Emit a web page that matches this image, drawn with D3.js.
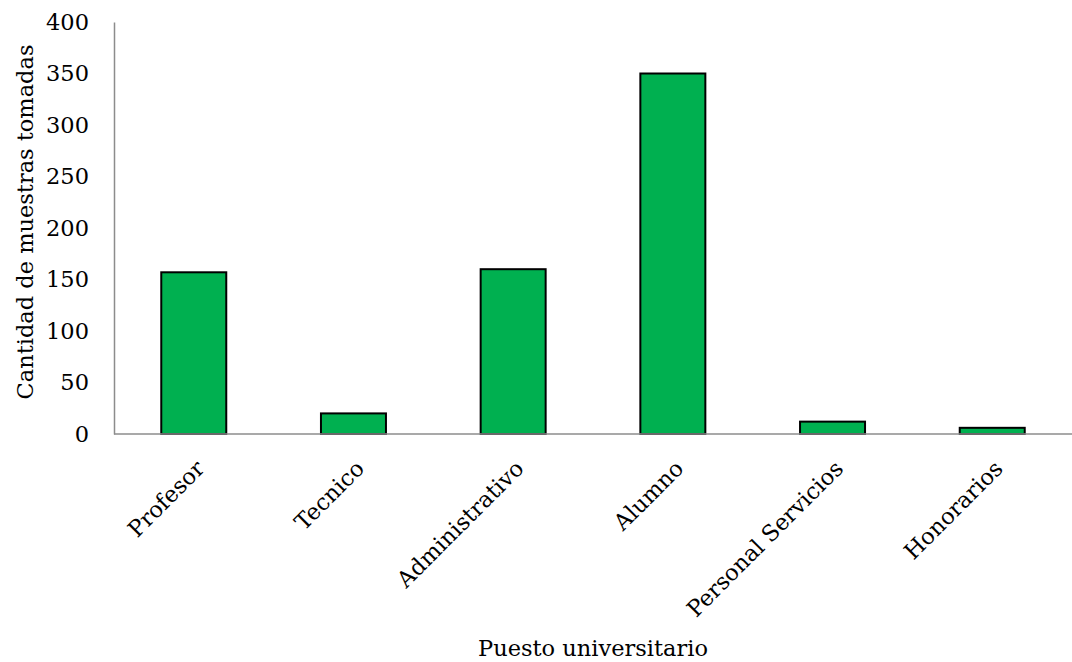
<!DOCTYPE html>
<html>
<head>
<meta charset="utf-8">
<script src="https://cdn.jsdelivr.net/npm/d3@7"></script>
<style>
  body { margin: 0; background: #fff; }
  text { font-family: "DejaVu Serif", serif; fill: #000; }
</style>
</head>
<body>
<svg id="chart"></svg>
<script>
var width = 1072;
var height = 662;

var categories = ["Profesor", "Tecnico", "Administrativo", "Alumno", "Personal Servicios", "Honorarios"];
var values = [157, 20, 160, 350, 12, 6];
var yTicks = [0, 50, 100, 150, 200, 250, 300, 350, 400];

var margin = { top: 22, right: 0, bottom: 228, left: 114 };
var fontSize = "22.5px";

var svg = d3.select("#chart").attr("width", width).attr("height", height);

var x = d3.scaleBand()
    .domain(categories)
    .range([margin.left, width - margin.right])
    .paddingInner(0.593)
    .paddingOuter(0.296);

var y = d3.scaleLinear()
    .domain([0, 400])
    .range([height - margin.bottom, margin.top]);

// bars
svg.append("g")
    .selectAll("rect")
    .data(values)
    .enter()
    .append("rect")
    .attr("x", function (d, i) { return x(categories[i]); })
    .attr("y", function (d) { return y(d); })
    .attr("width", x.bandwidth())
    .attr("height", function (d) { return y(0) - y(d); })
    .attr("fill", "#00b050")
    .attr("stroke", "#000")
    .attr("stroke-width", 2);

// y axis
var yAxis = svg.append("g")
    .attr("transform", "translate(" + margin.left + ",0)")
    .call(d3.axisLeft(y).tickValues(yTicks).tickSize(0).tickPadding(25));
yAxis.select(".domain").attr("stroke", "#8c8c8c").attr("stroke-width", 1.5);
yAxis.selectAll("text").style("font-size", fontSize).style("font-family", "DejaVu Serif");

// x axis
var xAxis = svg.append("g")
    .attr("transform", "translate(0," + y(0) + ")")
    .call(d3.axisBottom(x).tickSize(0).tickFormat(""));
xAxis.select(".domain").attr("stroke", "#8c8c8c").attr("stroke-width", 1.5)
    .attr("d", "M" + margin.left + ",0H" + width);

// rotated category labels
svg.append("g")
    .selectAll("text")
    .data(categories)
    .enter()
    .append("text")
    .attr("transform", function (d) {
        return "translate(" + (x(d) + x.bandwidth() / 2 + 12) + "," + (y(0) + 36) + ") rotate(-45)";
    })
    .attr("text-anchor", "end")
    .style("font-size", fontSize)
    .text(function (d) { return d; });

// axis titles
svg.append("text")
    .attr("x", (margin.left + width) / 2)
    .attr("y", 656)
    .attr("text-anchor", "middle")
    .style("font-size", fontSize)
    .text("Puesto universitario");

svg.append("text")
    .attr("transform", "translate(33,222) rotate(-90)")
    .attr("text-anchor", "middle")
    .style("font-size", fontSize)
    .text("Cantidad de muestras tomadas");
</script>
</body>
</html>
